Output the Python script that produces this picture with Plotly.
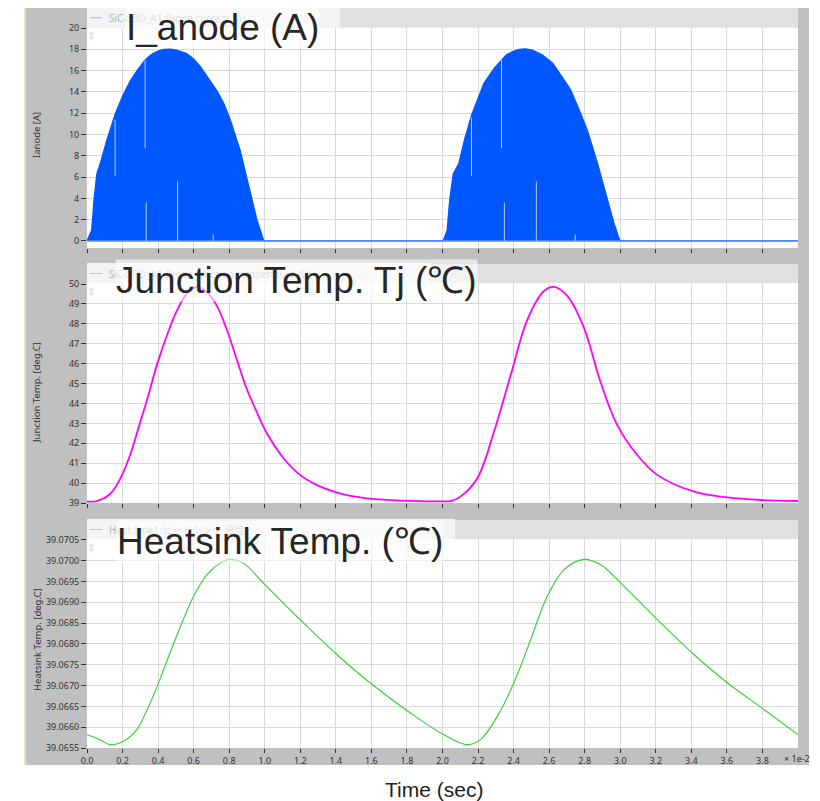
import plotly.graph_objects as go

# ---------------- data (time in units of 1e-2 s) ----------------
cur_t = [0.0, 0.026, 0.04, 0.055, 0.073, 0.11, 0.158, 0.20, 0.242, 0.285, 0.327, 0.36, 0.392,
         0.43, 0.468, 0.51, 0.561, 0.60, 0.637, 0.68, 0.731, 0.77, 0.806, 0.862, 0.909, 0.956,
         0.993, 1.0, 2.0,
         2.004, 2.026, 2.04, 2.06, 2.092, 2.125, 2.163, 2.20, 2.233, 2.29, 2.327, 2.36, 2.395,
         2.43, 2.468, 2.51, 2.561, 2.62, 2.665, 2.721, 2.777, 2.815, 2.872, 2.928, 2.965,
         2.995, 3.0, 4.0]
cur_a = [0.0, 1.0, 4.0, 6.3, 7.2, 9.4, 11.9, 13.6, 15.0, 16.1, 17.0, 17.5, 17.8,
         18.0, 18.05, 17.9, 17.6, 17.1, 16.4, 15.4, 14.1, 12.9, 11.4, 8.5, 5.1, 2.0,
         0.1, 0.0, 0.0,
         0.0, 1.0, 3.8, 6.3, 7.3, 9.6, 11.8, 13.4, 14.8, 16.2, 16.9, 17.5, 17.8,
         18.0, 18.05, 17.9, 17.5, 16.7, 15.6, 14.2, 12.0, 10.4, 7.3, 3.85, 1.66,
         0.15, 0.0, 0.0]

# sampling gaps visible inside the current envelope
gap_t = [0.158, 0.327, 0.333, 0.51, 0.71, 2.163, 2.332, 2.348, 2.528, 2.747]
gap_lo = [6.1, 8.7, 0.0, 0.0, 0.0, 6.1, 8.7, 0.0, 0.0, 0.0]
gap_hi = [11.4, 17.0, 3.6, 5.6, 0.6, 11.6, 17.0, 3.6, 5.6, 0.6]

tj_t = [0.0, 0.055, 0.13, 0.186, 0.242, 0.299, 0.345, 0.392, 0.449, 0.505, 0.561, 0.618,
        0.674, 0.731, 0.787, 0.843, 0.90, 0.956, 1.012, 1.106, 1.2, 1.294, 1.407, 1.576,
        1.763, 1.99, 2.045, 2.101, 2.195, 2.289, 2.383, 2.477, 2.571, 2.627, 2.702, 2.796,
        2.89, 2.984, 3.097, 3.21, 3.416, 3.604, 3.792, 4.0]
tj_v = [39.07, 39.1, 39.45, 40.2, 41.4, 43.05, 44.4, 45.9, 47.4, 48.65, 49.5, 49.85,
        49.6, 48.9, 47.7, 46.2, 44.7, 43.55, 42.5, 41.25, 40.4, 39.9, 39.52, 39.23,
        39.12, 39.08, 39.1, 39.32, 40.23, 42.55, 45.4, 48.2, 49.65, 49.85, 49.4, 47.8,
        45.05, 42.9, 41.4, 40.4, 39.57, 39.28, 39.15, 39.1]

hs_t = [0.0, 0.073, 0.13, 0.205, 0.28, 0.336, 0.392, 0.468, 0.543, 0.599, 0.674, 0.749,
        0.806, 0.88, 0.993, 1.2, 1.407, 1.594, 1.82, 2.008, 2.139, 2.214, 2.308, 2.401,
        2.496, 2.589, 2.683, 2.796, 2.89, 3.003, 3.21, 3.416, 3.604, 3.81, 4.0]
hs_v = [39.06582, 39.0657, 39.06558, 39.06566, 39.06594, 39.0664, 39.06695, 39.0678,
        39.0686, 39.06914, 39.06966, 39.06994, 39.07003, 39.06994, 39.06946, 39.06858,
        39.06774, 39.06706, 39.06634, 39.06582, 39.06558, 39.0657, 39.06626, 39.06706,
        39.0681, 39.06914, 39.06978, 39.07003, 39.0699, 39.06946, 39.06858, 39.06774,
        39.06706, 39.06642, 39.06582]

x_ticks = [i / 10 for i in range(0, 40, 2)]
x_ticklabels = [f"{v:.1f}" for v in x_ticks]

# ---------------- geometry helpers (page pixels -> paper) ----------------
OFF = 8                      # page body margin
W, H = 820 - OFF, 801 - OFF
def px(x):
    return (x - OFF) / W
def py(y):
    return 1 - (y - OFF) / H

PX0, PX1 = 87, 798
panels = [  # header top, plot top, plot bottom
    (8, 27.5, 248),
    (264, 283, 503),
    (520, 539, 748),
]

fig = go.Figure()

fig.add_trace(go.Scatter(x=cur_t, y=cur_a, mode="lines", fill="tozeroy",
                         line=dict(color="#0057ff", width=1.2),
                         fillcolor="#0057ff", xaxis="x", yaxis="y",
                         showlegend=False, hoverinfo="skip"))
fig.add_trace(go.Scatter(x=[0, 4], y=[0, 0], mode="lines",
                         line=dict(color="#5c8cff", width=1.5),
                         xaxis="x", yaxis="y", showlegend=False, hoverinfo="skip"))
gx, gy = [], []
for t, lo, hi in zip(gap_t, gap_lo, gap_hi):
    gx += [t, t, None]
    gy += [lo, hi, None]
fig.add_trace(go.Scatter(x=gx, y=gy, mode="lines",
                         line=dict(color="#b8ccff", width=1),
                         xaxis="x", yaxis="y", showlegend=False, hoverinfo="skip"))

fig.add_trace(go.Scatter(x=tj_t, y=tj_v, mode="lines", line=dict(color="#ff00ff", width=1.8, shape="spline"),
                         xaxis="x2", yaxis="y2", showlegend=False, hoverinfo="skip"))
fig.add_trace(go.Scatter(x=hs_t, y=hs_v, mode="lines", line=dict(color="#2fd02f", width=1.1, shape="spline"),
                         xaxis="x3", yaxis="y3", showlegend=False, hoverinfo="skip"))

shapes = []
shapes.append(dict(type="rect", xref="paper", yref="paper", x0=px(25), x1=px(809), y0=py(765), y1=py(4),
                   fillcolor="#c0c0c0", line=dict(width=0), layer="below"))
shapes.append(dict(type="line", xref="paper", yref="paper", x0=px(25.5), x1=px(25.5), y0=py(765), y1=py(4),
                   line=dict(color="#d6d3a6", width=2), layer="below"))
legend_right = [340, 430, 455]
legend_cols = ["#9bb6ff", "#ff99ff", "#99e699"]
for (ht, pt, pb), lr, lc in zip(panels, legend_right, legend_cols):
    shapes.append(dict(type="rect", xref="paper", yref="paper", x0=px(PX0), x1=px(PX1), y0=py(pt), y1=py(ht),
                       fillcolor="#e0e0e0", line=dict(width=0), layer="below"))
    shapes.append(dict(type="rect", xref="paper", yref="paper", x0=px(PX0), x1=px(lr), y0=py(pt), y1=py(ht - 1),
                       fillcolor="#f3f3f3", line=dict(width=0), layer="below"))
    shapes.append(dict(type="rect", xref="paper", yref="paper", x0=px(PX0), x1=px(PX1), y0=py(pb), y1=py(pt),
                       fillcolor="#ffffff", line=dict(width=0), layer="below"))
    shapes.append(dict(type="line", xref="paper", yref="paper", x0=px(90), x1=px(102),
                       y0=py((ht + pt) / 2), y1=py((ht + pt) / 2),
                       line=dict(color=lc, width=1), layer="below"))

tickfont = dict(family="Noto Sans, DejaVu Sans, sans-serif", size=9, color="#333333")
grid = "#d9d9d9"

def xax(anchor, labels):
    return dict(domain=[px(PX0), px(PX1)], range=[0, 4], anchor=anchor, automargin=False,
                tickmode="array", tickvals=x_ticks, ticktext=x_ticklabels,
                showticklabels=labels, ticks="outside", ticklen=4, tickcolor="#333333",
                showgrid=True, gridcolor=grid, gridwidth=1, zeroline=False, showline=False,
                tickfont=tickfont, fixedrange=True)

def yax(dom, rng, anchor, vals, text=None):
    d = dict(domain=dom, range=rng, anchor=anchor, automargin=False,
             tickmode="array", tickvals=vals,
             ticks="outside", ticklen=5, tickcolor="#333333", tickfont=tickfont,
             showgrid=True, gridcolor=grid, zeroline=False, showline=False, fixedrange=True)
    if text is not None:
        d["ticktext"] = text
    return d

layout = dict(
    width=W, height=H, margin=dict(l=0, r=0, t=0, b=0, pad=0, autoexpand=False),
    paper_bgcolor="#ffffff", plot_bgcolor="rgba(0,0,0,0)", showlegend=False,
    xaxis=xax("y", False), xaxis2=xax("y2", False), xaxis3=xax("y3", True),
    yaxis=yax([py(panels[0][2]), py(panels[0][1])], [-0.66, 20.05], "x", list(range(0, 21, 2))),
    yaxis2=yax([py(panels[1][2]), py(panels[1][1])], [39, 50.05], "x2", list(range(39, 51))),
    yaxis3=yax([py(panels[2][2]), py(panels[2][1])], [39.0655, 39.07052], "x3",
               [39.0655 + 0.0005 * i for i in range(11)],
               [f"{39.0655 + 0.0005 * i:.4f}" for i in range(11)]),
    shapes=shapes,
)

ann = []
leg_texts = ["SiC-SBD_A1:Diode current (A)", "SiC-SBD_A1:Diode junction temperature (C)",
             "Heat Sink1:ヒートシンク 温度"]
for (ht, pt, pb), txt in zip(panels, leg_texts):
    ann.append(dict(text=txt, x=px(107), y=py((ht + pt) / 2), xref="paper", yref="paper",
                    xanchor="left", yanchor="middle", showarrow=False,
                    font=dict(family="Noto Sans, Noto Sans CJK JP, sans-serif", size=10, color="#b5b5b5")))
    ann.append(dict(text="⇳", x=px(91), y=py(pt + 8), xref="paper", yref="paper",
                    xanchor="center", yanchor="middle", showarrow=False,
                    font=dict(family="DejaVu Sans", size=10, color="#c8c8c8")))

ytitles = [("Ianode [A]", 135), ("Junction Temp. [deg.C]", 393), ("Heatsink Temp. [deg.C]", 640)]
for txt, yc in ytitles:
    ann.append(dict(text=txt, x=px(37), y=py(yc), xref="paper", yref="paper", textangle=-90,
                    xanchor="center", yanchor="middle", showarrow=False,
                    font=dict(family="Noto Sans, sans-serif", size=9.5, color="#333333")))

big = dict(family="Liberation Sans, Arial, sans-serif", size=37, color="#262626")
for txt, xc, yc in [("I_anode (A)", 222, 27), ("Junction Temp. Tj (℃)", 296, 281),
                    ("Heatsink Temp. (℃)", 280, 541)]:
    ann.append(dict(text=txt, x=px(xc), y=py(yc), xref="paper", yref="paper",
                    xanchor="center", yanchor="middle", showarrow=False, font=big,
                    bgcolor="rgba(255,255,255,0.6)", borderpad=0))

ann.append(dict(text="Time (sec)", x=px(434), y=py(789), xref="paper", yref="paper",
                xanchor="center", yanchor="middle", showarrow=False,
                font=dict(family="Liberation Sans, Arial, sans-serif", size=21, color="#222222")))
ann.append(dict(text="× 1e-2", x=px(782), y=py(758), xref="paper", yref="paper",
                xanchor="left", yanchor="middle", showarrow=False,
                font=dict(family="Noto Sans, sans-serif", size=9, color="#333333")))
layout["annotations"] = ann

fig.update_layout(**layout)
fig.write_html("out.html")
